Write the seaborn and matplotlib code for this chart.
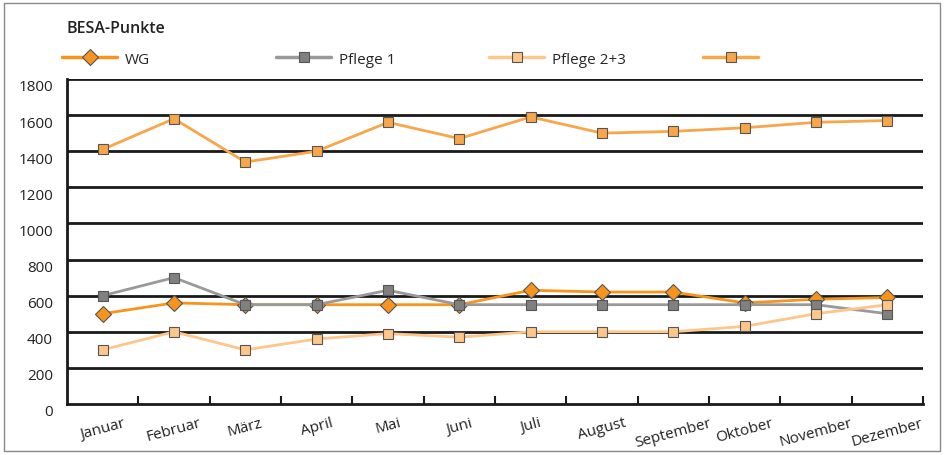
import matplotlib
matplotlib.use('Agg')
import matplotlib.pyplot as plt
import matplotlib.transforms as mtransforms
from matplotlib.lines import Line2D
from matplotlib.patches import Rectangle
import pandas as pd
import seaborn as sns

months = ["Januar", "Februar", "März", "April", "Mai", "Juni", "Juli",
          "August", "September", "Oktober", "November", "Dezember"]
wg = [500, 560, 550, 550, 550, 550, 630, 620, 620, 560, 580, 590]
pflege1 = [600, 700, 550, 550, 630, 550, 550, 550, 550, 550, 550, 500]
pflege23 = [300, 400, 300, 360, 390, 370, 400, 400, 400, 430, 500, 550]
total = [1410, 1580, 1340, 1400, 1560, 1470, 1590, 1500, 1510, 1530, 1560, 1570]
yticks = [0, 200, 400, 600, 800, 1000, 1200, 1400, 1600, 1800]

series = [
    ("WG", wg, "#F7941D", "D", 8),
    ("Pflege 1", pflege1, "#999999", "s", 7),
    ("Pflege 2+3", pflege23, "#FDC68A", "s", 7),
    ("", total, "#F9A54A", "s", 7),
]
marker_face = {"WG": "#F7941D", "Pflege 1": "#808080",
               "Pflege 2+3": "#FDC68A", "": "#F9A54A"}

sns.set_style("white")
plt.rcParams['font.family'] = ['Open Sans', 'DejaVu Sans']

fig = plt.figure(figsize=(9.44, 4.56), dpi=100)
ax = fig.add_axes([67 / 944, 1 - 405 / 456, (923 - 67) / 944, 325 / 456])

x = list(range(len(months)))
for name, vals, col, mk, ms in series:
    df = pd.DataFrame({"x": x, "y": vals})
    sns.lineplot(data=df, x="x", y="y", ax=ax, color=col, linewidth=2,
                 marker=mk, markersize=ms, markerfacecolor=marker_face[name],
                 markeredgecolor="#555555", markeredgewidth=0.8, zorder=3)

ax.set_xlim(-0.5, len(months) - 0.5)
ax.set_ylim(0, 1800)
ax.set_yticks(yticks)
for v in yticks[1:]:
    ax.axhline(v, color="#1a1a1a", linewidth=2, zorder=1)

ax.set_xticks(x)
ax.set_xticklabels(months, rotation=15, fontsize=11, color="#222222")
ax.set_xticks([i + 0.5 for i in range(len(months))], minor=True)
ax.tick_params(axis="x", which="major", length=0, pad=8)
ax.tick_params(axis="x", which="minor", direction="in", length=6,
               width=1.5, color="#1a1a1a", bottom=True)
ax.tick_params(axis="y", length=0, labelsize=11, labelcolor="#222222", pad=10)
offset = mtransforms.ScaledTranslation(0, -6 / 100, fig.dpi_scale_trans)
for lbl in ax.get_yticklabels():
    lbl.set_transform(lbl.get_transform() + offset)
ax.set_xlabel("")
ax.set_ylabel("")

for side in ["top", "right"]:
    ax.spines[side].set_visible(False)
for side in ["left", "bottom"]:
    ax.spines[side].set_color("#1a1a1a")
    ax.spines[side].set_linewidth(2)

# legend: four fixed-width entries in one row
legend_x = [62, 276, 489, 703]
for (name, vals, col, mk, ms), lx in zip(series, legend_x):
    h = Line2D([0], [0], color=col, linewidth=2.5, marker=mk, markersize=ms,
               markerfacecolor=marker_face[name], markeredgecolor="#555555",
               markeredgewidth=0.8)
    fig.legend([h], [name], loc="center left",
               bbox_to_anchor=(lx / 944, 1 - 60 / 456), frameon=False,
               fontsize=11, handlelength=3.6, handletextpad=0.5,
               borderaxespad=0, borderpad=0)

fig.text(67 / 944, 1 - 29 / 456, "BESA-Punkte", fontsize=11.5,
         color="#222222", va="center", fontweight="semibold")

fig.patches.append(Rectangle((4 / 944, 4 / 456), 936 / 944, 448 / 456,
                             transform=fig.transFigure, fill=False,
                             edgecolor="#888888", linewidth=1))

fig.savefig("out.png", dpi=100)
